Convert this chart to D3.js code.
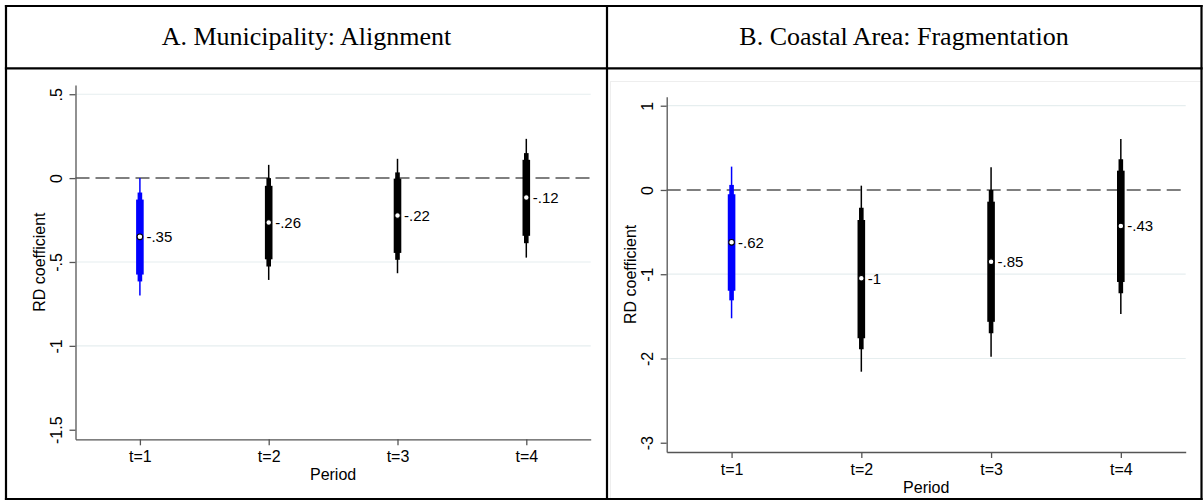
<!DOCTYPE html>
<html>
<head>
<meta charset="utf-8">
<script src="https://cdn.jsdelivr.net/npm/d3@7"></script>
<style>
  body { margin: 0; background: #fff; }
  svg { display: block; }
  text { font-family: "Liberation Sans", Arial, Helvetica, sans-serif; fill: #000; }
</style>
</head>
<body>
<svg id="chart"></svg>
<script>
// Data
const periods = ['t=1', 't=2', 't=3', 't=4']
const titles = ['A. Municipality: Alignment', 'B. Coastal Area: Fragmentation']

// A. Municipality: Alignment
const aEst = [-0.35, -0.265, -0.223, -0.116]
const aLabels = ['-.35', '-.26', '-.22', '-.12']
const aLo99 = [-0.70, -0.607, -0.567, -0.474]
const aHi99 = [0.00, 0.079, 0.115, 0.234]
const aLo95 = [-0.616, -0.527, -0.487, -0.388]
const aHi95 = [-0.086, 0.0, 0.034, 0.149]
const aLo90 = [-0.575, -0.484, -0.446, -0.344]
const aHi90 = [-0.128, -0.046, -0.003, 0.109]
const aTicks = [0.5, 0, -0.5, -1, -1.5]
const aGrid = [0.5, -0.5, -1]

// B. Coastal Area: Fragmentation
const bEst = [-0.621, -1.048, -0.851, -0.427]
const bLabels = ['-.62', '-1', '-.85', '-.43']
const bLo99 = [-1.523, -2.157, -1.979, -1.472]
const bHi99 = [0.277, 0.051, 0.269, 0.605]
const bLo95 = [-1.31, -1.89, -1.70, -1.226]
const bHi95 = [0.06, -0.21, 0.0, 0.364]
const bLo90 = [-1.196, -1.76, -1.565, -1.092]
const bHi90 = [-0.05, -0.356, -0.139, 0.229]
const bTicks = [1, 0, -1, -2, -3]
const bGrid = [1, -1, -2]

const W = 1203
const H = 500
const axisColor = '#555'
const ciWidths = [1.5, 4.6, 7.6] // 99, 95, 90
const colorFor = i => (i === 0 ? '#0000ff' : '#000')

const svg = d3.select('#chart')
  .attr('width', W)
  .attr('height', H)

// panel layouts (plot region in page pixels)
const panels = [
  {
    title: titles[0], est: aEst, labels: aLabels,
    ci: [[aLo99, aHi99], [aLo95, aHi95], [aLo90, aHi90]],
    ticks: aTicks, grid: aGrid, yExtent: [-1.557, 0.555],
    left: 75.5, right: 590.7, top: 85, bottom: 439.3, cx: 306.5
  },
  {
    title: titles[1], est: bEst, labels: bLabels,
    ci: [[bLo99, bHi99], [bLo95, bHi95], [bLo90, bHi90]],
    ticks: bTicks, grid: bGrid, yExtent: [-3.11, 1.107],
    left: 666.7, right: 1185.7, top: 96.7, bottom: 452, cx: 904
  }
]

// faint graph frame of the second Stata image
svg.append('rect')
  .attr('x', 610.5).attr('y', 81.5)
  .attr('width', 591).attr('height', 430)
  .attr('fill', 'none')
  .attr('stroke', '#eeeeee')

// strip the leading zero like Stata does
const stataFmt = d => String(d).replace(/^(-?)0\./, '$1.')

function drawPanel(p) {
  const x = d3.scalePoint()
    .domain(periods)
    .range([p.left, p.right])
    .padding(0.5)

  const y = d3.scaleLinear()
    .domain(p.yExtent)
    .range([p.bottom, p.top])

  const g = svg.append('g')

  // gridlines
  g.selectAll('.grid')
    .data(p.grid)
    .join('line')
    .attr('class', 'grid')
    .attr('x1', p.left).attr('x2', p.right)
    .attr('y1', d => y(d)).attr('y2', d => y(d))
    .attr('stroke', '#e6eeef')
    .attr('stroke-width', 1.2)

  // zero reference line
  g.append('line')
    .attr('x1', p.left).attr('x2', p.right)
    .attr('y1', y(0)).attr('y2', y(0))
    .attr('stroke', '#555')
    .attr('stroke-width', 1.5)
    .attr('stroke-dasharray', '14,6')

  // axes
  const yAxis = d3.axisLeft(y)
    .tickValues(p.ticks)
    .tickSize(6)
    .tickSizeOuter(0)
    .tickFormat(stataFmt)

  const gy = g.append('g')
    .attr('transform', `translate(${p.left},0)`)
    .call(yAxis)

  gy.selectAll('text')
    .attr('x', null).attr('dy', null)
    .attr('transform', 'translate(-13.5,0) rotate(-90)')
    .attr('text-anchor', 'middle')
    .style('font-size', '16px')

  const xAxis = d3.axisBottom(x)
    .tickSize(6)
    .tickSizeOuter(0)

  const gx = g.append('g')
    .attr('transform', `translate(0,${p.bottom})`)
    .call(xAxis)

  gx.selectAll('text')
    .attr('y', 22.5).attr('dy', null)
    .style('font-size', '16px')

  g.selectAll('.domain, .tick line')
    .attr('stroke', axisColor)
    .attr('stroke-width', 1.3)

  // axis titles
  g.append('text')
    .attr('transform', `translate(${p.left - 30.5},${(p.top + p.bottom) / 2}) rotate(-90)`)
    .attr('text-anchor', 'middle')
    .style('font-size', '16px')
    .text('RD coefficient')

  g.append('text')
    .attr('x', (p.left + p.right) / 2)
    .attr('y', p.bottom + 40.7)
    .attr('text-anchor', 'middle')
    .style('font-size', '16px')
    .text('Period')

  // confidence intervals: 99, 95, 90
  p.ci.forEach(([lo, hi], k) => {
    g.selectAll(`.ci${k}`)
      .data(periods)
      .join('line')
      .attr('class', `ci${k}`)
      .attr('x1', d => x(d)).attr('x2', d => x(d))
      .attr('y1', (d, i) => y(lo[i]))
      .attr('y2', (d, i) => y(hi[i]))
      .attr('stroke', (d, i) => colorFor(i))
      .attr('stroke-width', ciWidths[k])
  })

  // point estimates
  g.selectAll('.pt')
    .data(periods)
    .join('circle')
    .attr('class', 'pt')
    .attr('cx', d => x(d))
    .attr('cy', (d, i) => y(p.est[i]))
    .attr('r', 2.8)
    .attr('fill', '#fff')
    .attr('stroke', '#000')
    .attr('stroke-width', 1.1)

  g.selectAll('.lab')
    .data(periods)
    .join('text')
    .attr('class', 'lab')
    .attr('x', d => x(d) + 6.5)
    .attr('y', (d, i) => y(p.est[i]))
    .attr('dy', '0.36em')
    .style('font-size', '15px')
    .text((d, i) => p.labels[i])

  // header cell
  svg.append('text')
    .attr('x', p.cx)
    .attr('y', 45)
    .attr('text-anchor', 'middle')
    .style('font-family', '"Liberation Serif", "Times New Roman", serif')
    .style('font-size', '26px')
    .text(p.title)
}

panels.forEach(drawPanel)

// table borders
const borders = [
  [6, 6, 6, 499], [1201.5, 6, 1201.5, 499], [607, 6, 607, 499],
  [6, 6, 1201.5, 6], [6, 68.3, 1201.5, 68.3], [6, 499, 1201.5, 499]
]
svg.selectAll('.border')
  .data(borders)
  .join('line')
  .attr('class', 'border')
  .attr('x1', d => d[0]).attr('y1', d => d[1])
  .attr('x2', d => d[2]).attr('y2', d => d[3])
  .attr('stroke', '#000')
  .attr('stroke-width', 2.2)
  .attr('stroke-linecap', 'square')
</script>
</body>
</html>
